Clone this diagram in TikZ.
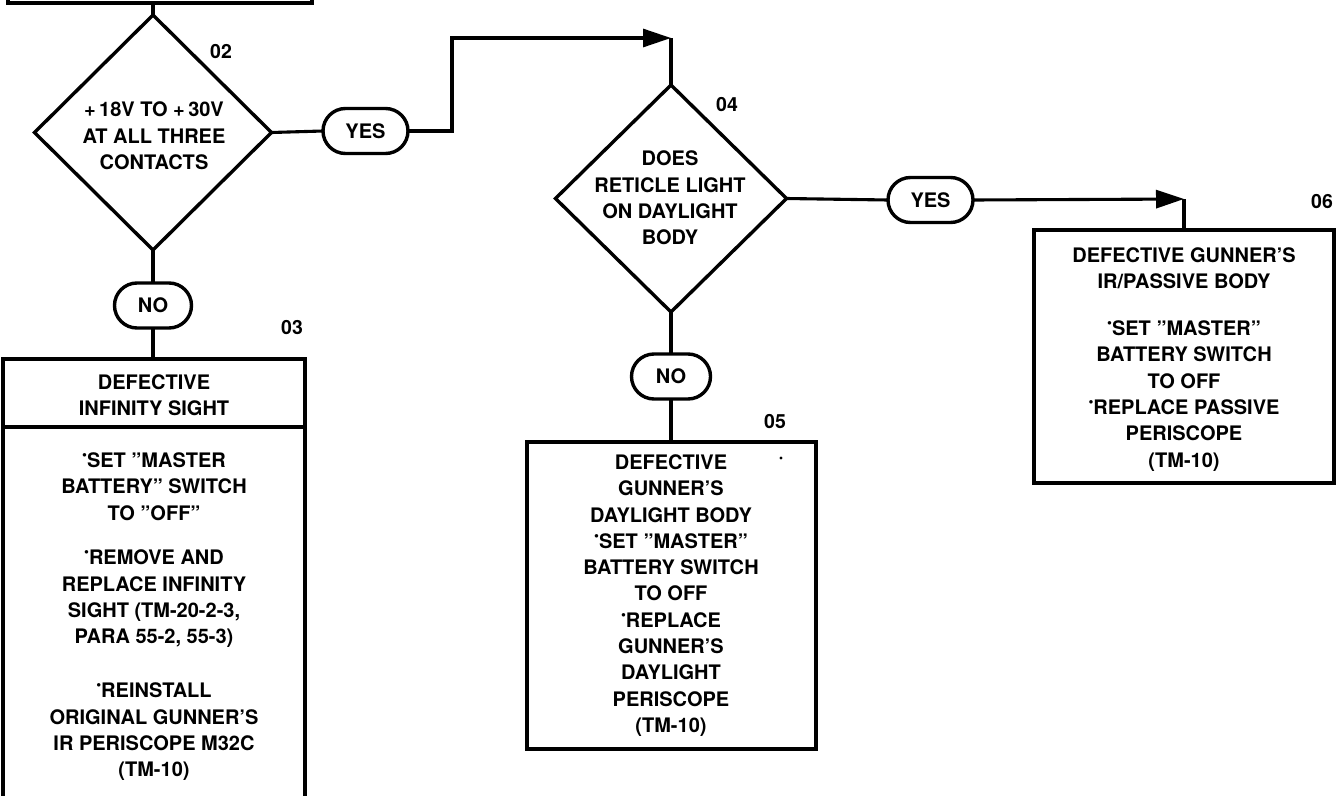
\documentclass[tikz,border=0pt]{standalone}
\usepackage{fontspec}
\setmainfont{TeX Gyre Heros}
\usetikzlibrary{arrows.meta,shapes.geometric,shapes.misc}
\newcommand{\bul}{\raisebox{0.75ex}{\scalebox{0.7}{\textbullet}}}
\begin{document}
\begin{tikzpicture}[x=1pt,y=-1pt,line join=miter,
  txt/.style={font=\fontsize{20}{26.3}\selectfont\bfseries,align=center,inner sep=0pt},
  lbl/.style={font=\fontsize{19.5}{20}\selectfont\bfseries,inner sep=0pt},
  box/.style={draw,line width=3.4pt,rectangle,inner sep=0pt,outer sep=0pt},
  dia/.style={draw,line width=3.4pt,diamond,inner sep=0pt,outer sep=0pt},
  oval/.style={draw,line width=3.4pt,rounded rectangle,inner sep=0pt,outer sep=0pt,
    minimum height=45pt,font=\fontsize{20}{22}\selectfont\bfseries},
  conn/.style={line width=3.1pt},
  arr/.style={-{Triangle[length=28pt,width=18pt]}}]
\useasboundingbox (0,0) rectangle (1338,795);
\clip (0,0) rectangle (1338,795);
\fill[white] (0,0) rectangle (1338,795);

% top (partial) box
\node[box,minimum width=304pt,minimum height=43pt] (b01) at (160,-18.5) {};

% decision 02
\node[dia,minimum width=237pt,minimum height=235pt] (d02) at (153,132.5) {};
\node[txt] (t02) at (154,136) {+\,18V TO +\,30V\\AT ALL THREE\\CONTACTS};
\node[lbl] (l02) at (221,52) {02};

% YES 1
\node[oval,minimum width=85pt] (y1) at (365.5,131) {YES};
\coordinate (k1) at (452,38);
\coordinate (k2) at (671,38);

% decision 04
\node[dia,minimum width=231pt,minimum height=227pt] (d04) at (671,198.5) {};
\node[txt] (t04) at (670,198) {DOES\\RETICLE LIGHT\\ON DAYLIGHT\\BODY};
\node[lbl] (l04) at (727,105) {04};

% NO 1 and box 03
\node[oval,minimum width=77pt] (n1) at (153,305.5) {NO};
\node[lbl] (l03) at (292,328) {03};
\node[box,minimum width=302pt,minimum height=471pt] (b03) at (154,594.5) {};
\coordinate (h1) at (3,427);
\coordinate (h2) at (305,427);
\node[txt] (t03a) at (154,395) {DEFECTIVE\\INFINITY SIGHT};
\node[txt] (t03b) at (154,486.5) {\bul SET "MASTER\\BATTERY" SWITCH\\TO "OFF"};
\node[txt] (t03c) at (154,599) {\bul REMOVE AND\\REPLACE INFINITY\\SIGHT (TM-20-2-3,\\PARA 55-2, 55-3)};
\node[txt] (t03d) at (154,732) {\bul REINSTALL\\ORIGINAL GUNNER'S\\IR PERISCOPE M32C\\(TM-10)};

% NO 2 and box 05
\node[oval,minimum width=79pt] (n2) at (671,376.5) {NO};
\node[lbl] (l05) at (775,422) {05};
\node[box,minimum width=289pt,minimum height=307pt] (b05) at (671.5,595.5) {};
\node[txt] (t05) at (671,595.5) {DEFECTIVE\\GUNNER'S\\DAYLIGHT BODY\\\bul SET "MASTER"\\BATTERY SWITCH\\TO OFF\\\bul REPLACE\\GUNNER'S\\DAYLIGHT\\PERISCOPE\\(TM-10)};
\fill (781,458) circle (1.6pt);

% YES 2 and box 06
\node[oval,minimum width=85pt] (y2) at (930.5,200) {YES};
\coordinate (k3) at (1184,199);
\node[lbl] (l06) at (1322,202) {06};
\node[box,minimum width=300pt,minimum height=253pt] (b06) at (1184,356.5) {};
\node[txt] (t06a) at (1184,268.5) {DEFECTIVE GUNNER'S\\IR/PASSIVE BODY};
\node[txt] (t06b) at (1184,396) {\bul SET "MASTER"\\BATTERY SWITCH\\TO OFF\\\bul REPLACE PASSIVE\\PERISCOPE\\(TM-10)};

% connectors
\draw[conn] (b03.north west |- h1) -- (b03.north east |- h2);
\draw[conn] (d02.north) -- (d02.north |- b01.south);
\draw[conn] (d02.east) -- (y1.west);
\draw[conn,arr] (y1.east) -| (k1) -- (k2);
\draw[conn] (k2) -- (d04.north);
\draw[conn] (d02.south) -- (n1.north);
\draw[conn] (n1.south) -- (n1.south |- b03.north);
\draw[conn] (d04.south) -- (n2.north);
\draw[conn] (n2.south) -- (n2.south |- b05.north);
\draw[conn] (d04.east) -- (y2.west);
\draw[conn,arr] (y2.east) -- (k3);
\draw[conn] (k3) -- (k3 |- b06.north);
\end{tikzpicture}
\end{document}
